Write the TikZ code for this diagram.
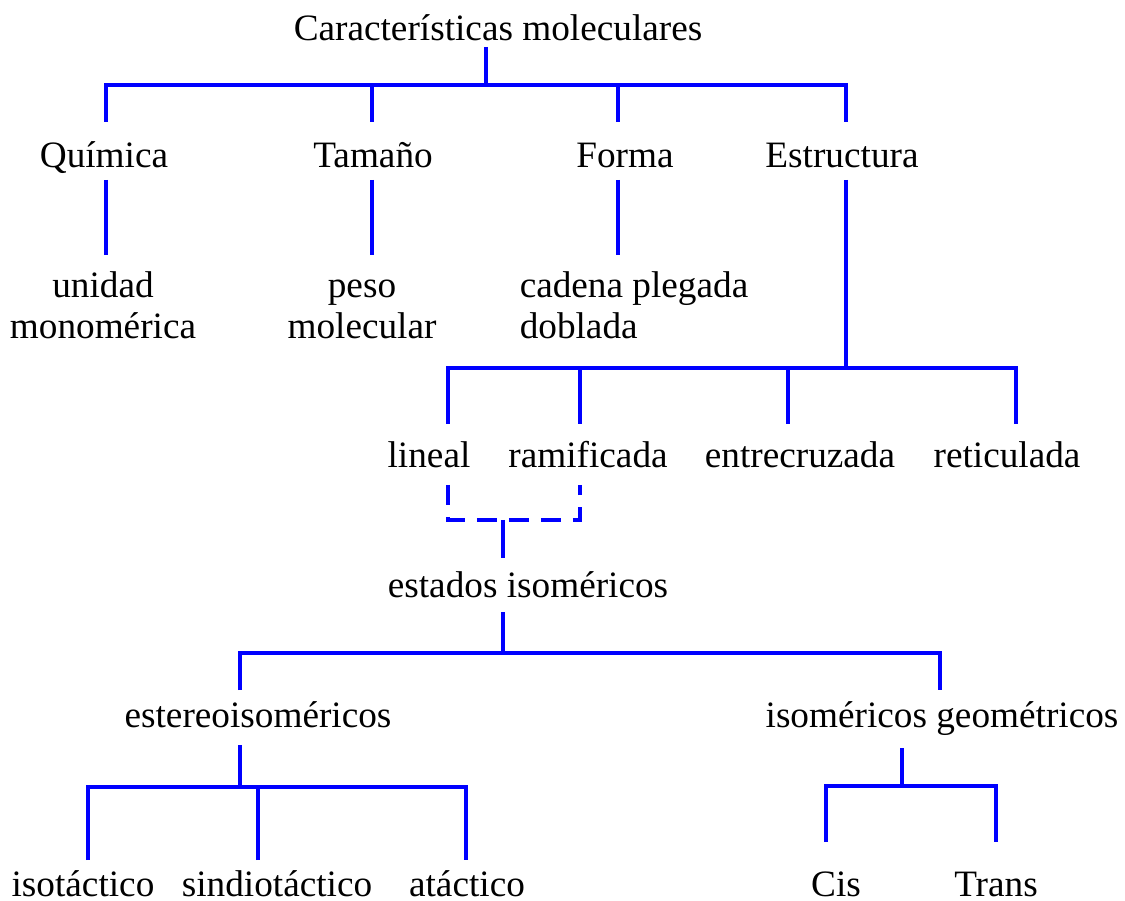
\documentclass[tikz,border=0pt]{standalone}
\usepackage{fontspec}
\setmainfont{Liberation Serif}
\begin{document}
\begin{tikzpicture}[x=0.02cm,y=-0.02cm,line cap=butt,line join=miter,
  rama/.style={draw=blue,line width=2pt},
  ramadash/.style={rama,dash pattern=on 0.4cm off 0.24cm},
  txt/.style={anchor=base,inner sep=0pt,font=\fontsize{21.2}{23.8}\selectfont}]
\useasboundingbox (0,0) rectangle (1125,901);

% Raiz
\node[txt] (carac) at (498,41) {Características moleculares};

% Primer nivel
\node[txt] (quim)  at (104,168) {Química};
\node[txt] (tam)   at (373,168) {Tamaño};
\node[txt] (forma) at (625,168) {Forma};
\node[txt] (estr)  at (842,168) {Estructura};

\coordinate (r0) at (486,47);
\coordinate (bar1) at (486,85);
\coordinate (quim-t) at (106,122);
\coordinate (tam-t) at (372,122);
\coordinate (forma-t) at (618,122);
\coordinate (estr-t) at (846,122);
\draw[rama] (r0) -- (bar1);
\draw[rama] (quim-t) |- (bar1) -| (estr-t);
\draw[rama] (tam-t) -- (tam-t |- bar1);
\draw[rama] (forma-t) -- (forma-t |- bar1);

% Segundo nivel (base = ultima linea)
\node[txt,align=center] (unidad) at (103,339) {unidad\\monomérica};
\node[txt,align=center] (peso)   at (362,339) {peso\\molecular};
\node[txt,align=left]   (cadena) at (634,339) {cadena plegada\\doblada};

\coordinate (quim-b) at (106,180);
\coordinate (tam-b) at (372,180);
\coordinate (forma-b) at (618,180);
\coordinate (estr-b) at (846,180);
\coordinate (unidad-t) at (106,255);
\coordinate (peso-t) at (372,255);
\coordinate (cadena-t) at (618,255);
\draw[rama] (quim-b) -- (unidad-t);
\draw[rama] (tam-b) -- (peso-t);
\draw[rama] (forma-b) -- (cadena-t);

% Tipos de estructura
\node[txt] (lineal) at (429,468) {lineal};
\node[txt] (ramif)  at (588,468) {ramificada};
\node[txt] (entre)  at (800,468) {entrecruzada};
\node[txt] (retic)  at (1007,468) {reticulada};

\coordinate (bar2) at (846,368);
\coordinate (lineal-t) at (448,424);
\coordinate (ramif-t) at (580,424);
\coordinate (entre-t) at (788,424);
\coordinate (retic-t) at (1016,424);
\draw[rama] (estr-b) -- (bar2);
\draw[rama] (lineal-t) |- (bar2) -| (retic-t);
\draw[rama] (ramif-t) -- (ramif-t |- bar2);
\draw[rama] (entre-t) -- (entre-t |- bar2);

% Estados isomericos (lineal o ramificada)
\node[txt] (estados) at (528,597) {estados isoméricos};

\coordinate (lineal-b) at (448,485);
\coordinate (ramif-b) at (580,485);
\coordinate (bar3) at (503,520);
\coordinate (estados-t) at (503,558);
\draw[ramadash] (lineal-b) |- (bar3) -| (ramif-b);
\draw[rama] (bar3) -- (estados-t);

% Estereoisomeros y geometricos
\node[txt] (ester) at (258,727) {estereoisoméricos};
\node[txt] (geom)  at (942,727) {isoméricos geométricos};

\coordinate (estados-b) at (503,612);
\coordinate (bar4) at (503,653);
\coordinate (ester-t) at (240,690);
\coordinate (geom-t) at (940,690);
\draw[rama] (estados-b) -- (bar4);
\draw[rama] (ester-t) |- (bar4) -| (geom-t);

% Ultimo nivel
\node[txt] (iso)    at (83,896)  {isotáctico};
\node[txt] (sindio) at (277,896) {sindiotáctico};
\node[txt] (atac)   at (467,896) {atáctico};
\node[txt] (cis)    at (836,896) {Cis};
\node[txt] (trans)  at (996,896) {Trans};

\coordinate (ester-b) at (240,745);
\coordinate (bar5) at (240,787);
\coordinate (iso-t) at (88,860);
\coordinate (sindio-t) at (258,860);
\coordinate (atac-t) at (466,860);
\draw[rama] (ester-b) -- (bar5);
\draw[rama] (iso-t) |- (bar5) -| (atac-t);
\draw[rama] (sindio-t) -- (sindio-t |- bar5);

\coordinate (geom-b) at (902,748);
\coordinate (bar6) at (902,786);
\coordinate (cis-t) at (826,842);
\coordinate (trans-t) at (996,842);
\draw[rama] (geom-b) -- (bar6);
\draw[rama] (cis-t) |- (bar6) -| (trans-t);
\end{tikzpicture}
\end{document}
